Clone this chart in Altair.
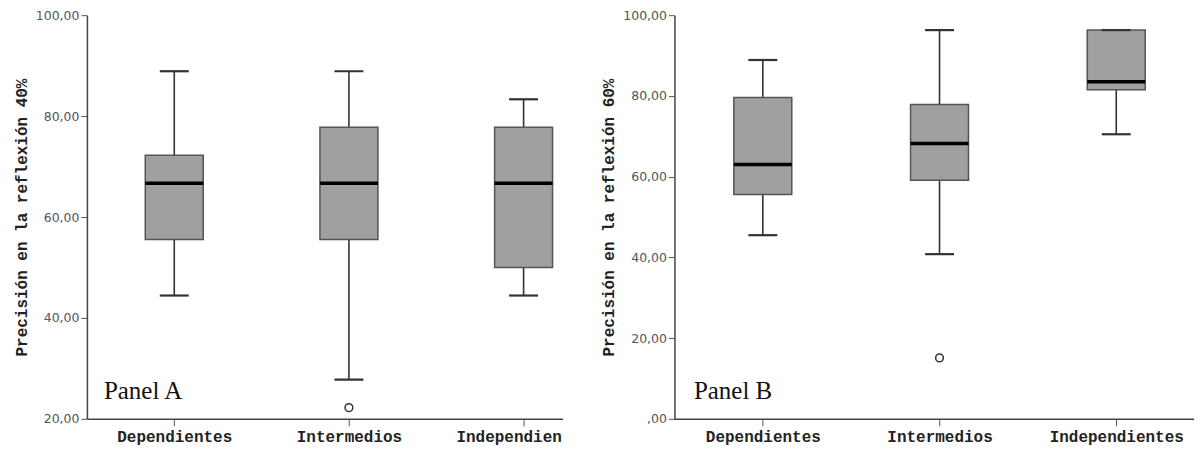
import json
import altair as alt
import pandas as pd

# ---- data ----
positions = [0, 1, 2]
cats_a = ["Dependientes", "Intermedios", "Independien"]
cats_b = ["Dependientes", "Intermedios", "Independientes"]

a_low = [44.44, 27.78, 44.44]
a_q1 = [55.56, 55.56, 50.00]
a_med = [66.67, 66.67, 66.67]
a_q3 = [72.22, 77.78, 77.78]
a_high = [88.89, 88.89, 83.33]
a_out_pos = [1]
a_out_val = [22.22]

b_low = [45.5, 40.8, 70.5]
b_q1 = [55.6, 59.1, 81.5]
b_med = [63.0, 68.2, 83.5]
b_q3 = [79.6, 77.9, 96.3]
b_high = [88.9, 96.3, 96.3]
b_out_pos = [1]
b_out_val = [15.1]

a_ticks = [20, 40, 60, 80, 100]
b_ticks = [0, 20, 40, 60, 80, 100]

title_a = "Precisión en la reflexión 40%"
title_b = "Precisión en la reflexión 60%"

label_a = ["Panel A"]
label_b = ["Panel B"]

Y_LABEL_EXPR = "datum.value == 0 ? ',00' : replace(format(datum.value, '.2f'), '.', ',')"


def panel(cats, low, q1, med, q3, high, out_pos, out_val, ydom, yticks, ytitle,
          xdom, width, label, label_pos):
    df = pd.DataFrame(dict(pos=positions, cat=cats, low=low, q1=q1, med=med,
                           q3=q3, high=high))
    out = pd.DataFrame(dict(pos=out_pos, val=out_val))
    lab = pd.DataFrame(dict(pos=[label_pos[0]], val=[label_pos[1]], text=label))

    last = len(positions) - 1
    xaxis = alt.Axis(
        values=positions,
        labelExpr=json.dumps(cats) + "[datum.value]",
        title=None, grid=False,
        labelFont="Liberation Mono", labelFontWeight="bold", labelFontSize=16,
        labelColor="#222", labelPadding=3,
        tickSize=7, tickColor="#555", domainColor="#444", domainWidth=1.5,
        labelFlush=False,
        labelOffset=({"condition": {"test": f"datum.value == {last}", "value": -15},
                      "value": 0} if cats[-1] == "Independien" else 0),
    )
    xs = alt.Scale(domain=xdom, nice=False, zero=False, padding=0)
    ys = alt.Scale(domain=ydom, nice=False, zero=False, padding=0)
    yaxis = alt.Axis(
        values=yticks, labelExpr=Y_LABEL_EXPR, title=ytitle, grid=False,
        titleFont="Liberation Mono", titleFontWeight="bold", titleFontSize=16,
        titleColor="#222", titlePadding=6,
        labelFont="DejaVu Sans", labelFontSize=12.5, labelColor="#555",
        labelPadding=2, tickSize=6, tickColor="#555",
        domainColor="#444", domainWidth=1.5,
    )
    X = alt.X("pos:Q", scale=xs, axis=xaxis)

    whisk = alt.Chart(df).mark_rule(color="#333", strokeWidth=1.6).encode(
        x=X, y=alt.Y("low:Q", scale=ys, axis=yaxis), y2="high:Q")
    box = alt.Chart(df).mark_bar(size=58, orient="vertical", color="#a0a0a0",
                                 stroke="#555", strokeWidth=1.5).encode(
        x=X, y=alt.Y("q1:Q", scale=ys), y2="q3:Q")
    med_t = alt.Chart(df).mark_tick(orient="horizontal", size=58, thickness=3.5,
                                    color="#000", opacity=1).encode(
        x=X, y=alt.Y("med:Q", scale=ys))
    cap_lo = alt.Chart(df).mark_tick(orient="horizontal", size=29, thickness=2.2,
                                     color="#333", opacity=1).encode(
        x=X, y=alt.Y("low:Q", scale=ys))
    cap_hi = alt.Chart(df).mark_tick(orient="horizontal", size=29, thickness=2.2,
                                     color="#333", opacity=1).encode(
        x=X, y=alt.Y("high:Q", scale=ys))
    pts = alt.Chart(out).mark_point(shape="circle", filled=False, size=60,
                                    color="#333", strokeWidth=1.5, opacity=1).encode(
        x=X, y=alt.Y("val:Q", scale=ys))
    txt = alt.Chart(lab).mark_text(align="left", baseline="alphabetic",
                                   font="Liberation Serif", fontSize=25,
                                   color="#111").encode(
        x=X, y=alt.Y("val:Q", scale=ys), text="text:N")
    return alt.layer(whisk, box, med_t, cap_lo, cap_hi, pts, txt).properties(
        width=width, height=404)


pa = panel(cats_a, a_low, a_q1, a_med, a_q3, a_high, a_out_pos, a_out_val,
           [20, 100], a_ticks, title_a, [-0.5, 2.223], 476, label_a, (-0.403, 24.0))
pb = panel(cats_b, b_low, b_q1, b_med, b_q3, b_high, b_out_pos, b_out_val,
           [0, 100], b_ticks, title_b, [-0.5, 2.44], 520, label_b, (-0.39, 5.0))

chart = alt.hconcat(pa, pb, spacing=38).properties(
    padding={"left": 5, "top": 1, "right": 0, "bottom": 0},
    background="white",
).configure_view(strokeWidth=0, stroke="transparent")

chart.save("out.html", embed_options={"renderer": "svg", "actions": False})
